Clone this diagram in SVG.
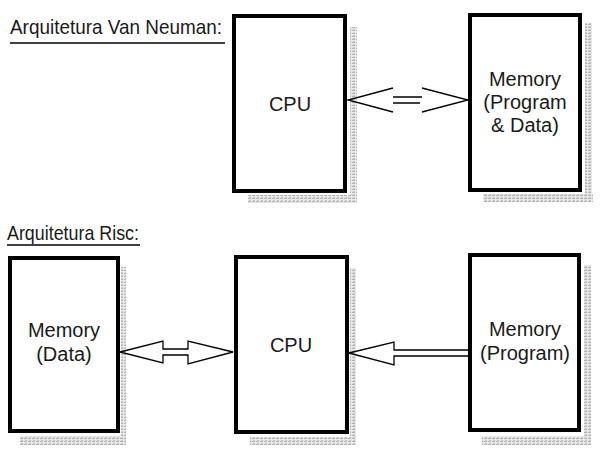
<svg xmlns="http://www.w3.org/2000/svg" width="600" height="455" viewBox="0 0 600 455">
<defs>
<pattern id="tex" width="4" height="3" patternUnits="userSpaceOnUse">
<rect width="4" height="3" fill="#e8e8e8"/>
<rect x="0" y="0" width="3" height="1" fill="#b4b4b4"/>
<rect x="1" y="2" width="2" height="1" fill="#cacaca"/>
</pattern>
<style>
.box{fill:#fff;stroke:#000;stroke-width:4}
.sh{fill:url(#tex)}
.t{font-family:"Liberation Sans",Arial,Helvetica,sans-serif;font-size:20px;fill:#1a1a1a}
.h{font-size:21px}
.c{text-anchor:middle}
.ar{fill:none;stroke:#000;stroke-width:1.3;stroke-linejoin:miter}
.ul{stroke:#000;stroke-width:1.5}
</style>
</defs>
<rect width="600" height="455" fill="#fff"/>

<g id="title-vn">
<text class="t h" x="10" y="34" textLength="212" lengthAdjust="spacingAndGlyphs">Arquitetura Van Neuman:</text>
<line class="ul" x1="10" y1="43" x2="225" y2="43"/>
</g>
<g id="title-risc">
<text class="t h" x="7" y="240" textLength="132" lengthAdjust="spacingAndGlyphs">Arquitetura Risc:</text>
<line class="ul" x1="7" y1="245" x2="140" y2="245"/>
</g>

<g id="vn-cpu">
<rect class="sh" x="350" y="27" width="7" height="176"/>
<rect class="sh" x="248" y="195" width="109" height="8"/>
<rect class="box" x="234" y="16" width="111" height="175"/>
<text class="t c" x="290" y="111">CPU</text>
</g>

<g id="vn-memory">
<rect class="sh" x="585" y="23" width="7" height="179"/>
<rect class="sh" x="483" y="194" width="110" height="8"/>
<rect class="box" x="470" y="15" width="110" height="175"/>
<text class="t c" x="525" y="86">Memory</text>
<text class="t c" x="525" y="109">(Program</text>
<text class="t c" x="525" y="132">&amp; Data)</text>
</g>

<g id="risc-mem-data">
<rect class="sh" x="121" y="267" width="5" height="178"/>
<rect class="sh" x="20" y="436" width="106" height="9"/>
<rect class="box" x="10" y="258" width="108" height="173"/>
<text class="t c" x="64" y="337">Memory</text>
<text class="t c" x="64" y="361">(Data)</text>
</g>

<g id="risc-cpu">
<rect class="sh" x="350" y="268" width="6" height="177"/>
<rect class="sh" x="250" y="437" width="106" height="8"/>
<rect class="box" x="236" y="257" width="111" height="175"/>
<text class="t c" x="291" y="352">CPU</text>
</g>

<g id="risc-mem-program">
<rect class="sh" x="584" y="265" width="7" height="180"/>
<rect class="sh" x="482" y="436" width="109" height="9"/>
<rect class="box" x="470" y="255" width="109" height="175"/>
<text class="t c" x="525" y="336">Memory</text>
<text class="t c" x="525" y="360">(Program)</text>
</g>

<g id="connectors">
<path class="ar" d="M393,88 L348,100 L393,112"/>
<path class="ar" d="M393,97 H422 M393,103 H420"/>
<path class="ar" d="M422,88 L468,100 L422,112"/>
<path class="ar" d="M120,352 L163,341 L163,349 L188,349 L188,341 L233,352 L188,364 L188,355 L163,355 L163,363 Z"/>
<path class="ar" d="M468,350 L394,350 L394,342 L349,353 L394,365 L394,356 L468,356"/>
</g>
</svg>
